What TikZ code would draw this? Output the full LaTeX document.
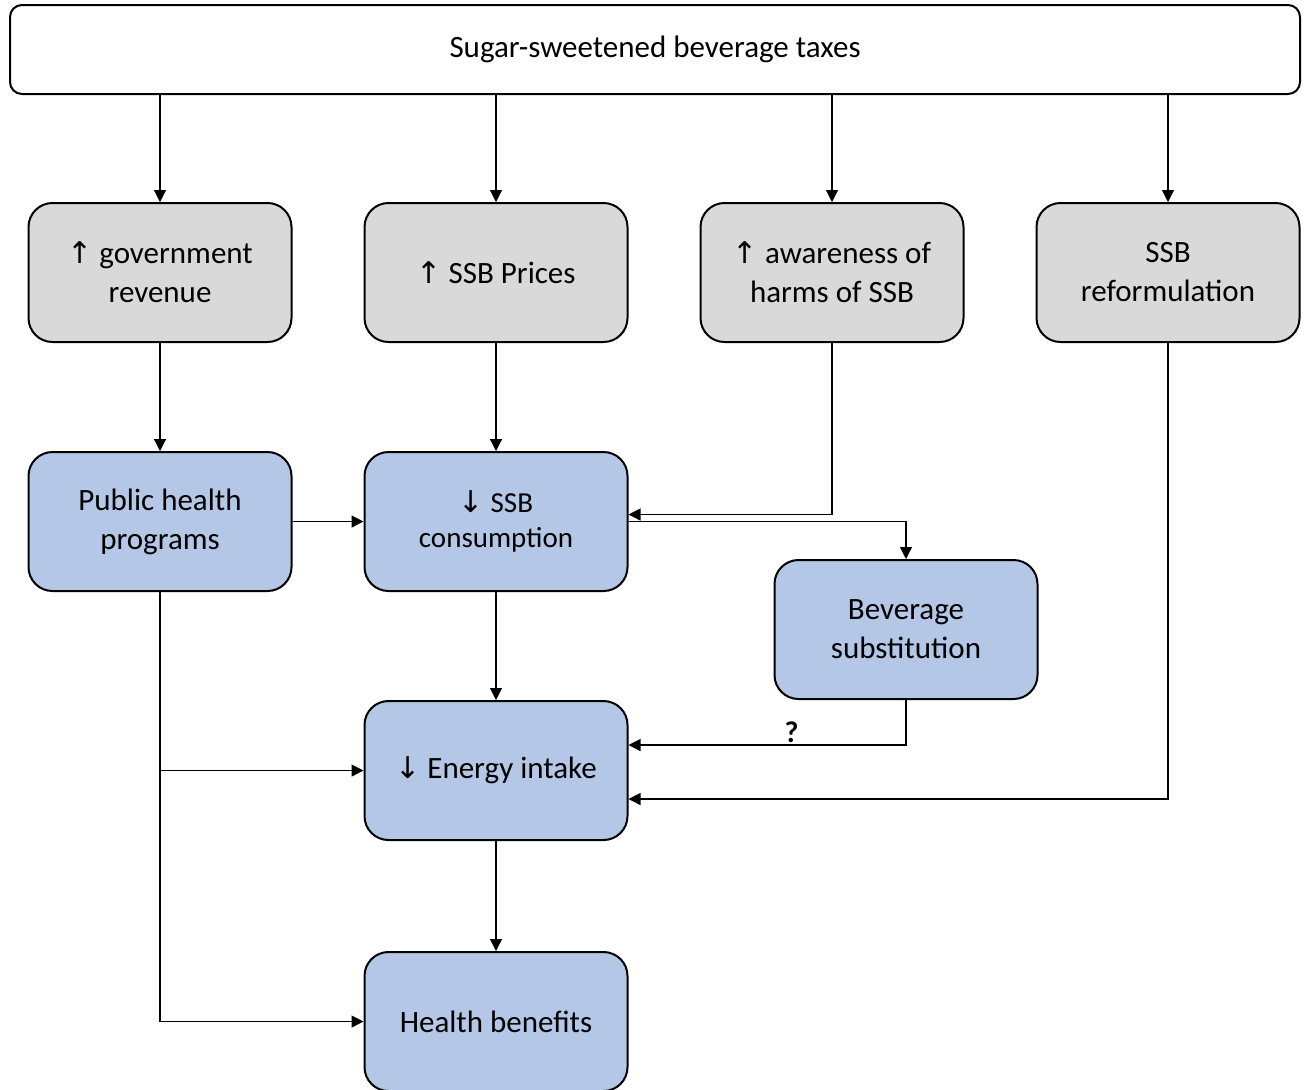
\documentclass[tikz,border=0pt]{standalone}
\usepackage{fontspec}
\setmainfont{Carlito}
\newfontfamily\arrowfont{DejaVu Sans}
\usepackage{tikz}
\usetikzlibrary{positioning,arrows.meta}
\definecolor{myblue}{RGB}{180,199,231}
\definecolor{mygray}{RGB}{217,217,217}
\newcommand{\uparr}{{\arrowfont\fontsize{15pt}{15pt}\selectfont ↑}}
\newcommand{\downarr}{{\arrowfont\fontsize{15pt}{15pt}\selectfont ↓}}

\tikzset{
  box/.style={draw, line width=1pt, rounded corners=12pt, align=center,
    minimum width=131.5pt, minimum height=69.5pt,
    font=\fontsize{15.5pt}{19.5pt}\selectfont},
  graybox/.style={box, fill=mygray},
  bluebox/.style={box, fill=myblue},
  arr/.style={line width=0.6pt, -{Triangle[length=6pt,width=6pt]}}
}

\begin{document}
\begin{tikzpicture}[x=0.5pt,y=-0.5pt]
  \useasboundingbox (0,0) rectangle (1304,1089);

  % tax
  \node[box, minimum width=645pt, minimum height=44.5pt, rounded corners=6pt] (tax) at (655,49.5) {Sugar-sweetened beverage taxes};

  % first row
  \node[graybox] (rev) at (160,272.5) {\uparr\ government\\revenue};
  \node[graybox] (price) at (496,272.5) {\uparr\ SSB Prices};
  \node[graybox] (aware) at (832,272.5) {\uparr\ awareness of\\harms of SSB};
  \node[graybox] (reform) at (1168,272.5) {SSB\\reformulation};

  % outcomes
  \node[bluebox] (pub) at (160,521.5) {Public health\\programs};
  \node[bluebox, font=\fontsize{14.5pt}{17.5pt}\selectfont] (cons) at (496,521.5) {\downarr\ SSB\\consumption};
  \node[bluebox] (subst) at (906,629.5) {Beverage\\substitution};
  \node[bluebox] (energy) at (496,770.5) {\downarr\ Energy intake};
  \node[bluebox] (health) at (496,1021.5) {Health benefits};

  % arrows
  \draw[arr] (tax.south -| rev) -- (rev);
  \draw[arr] (tax.south -| price) -- (price);
  \draw[arr] (tax.south -| aware) -- (aware);
  \draw[arr] (tax.south -| reform) -- (reform);
  \draw[arr] (rev) -- (pub);
  \draw[arr] (price) -- (cons);
  \draw[arr] (aware.south) |- ([yshift=3.5pt]cons.east);
  \draw[arr] (pub) -- (cons);
  \draw[arr] (cons.east) -| (subst.north);
  \draw[arr] (cons) -- (energy);
  \draw[arr] (subst.south) |- node[pos=0.706, above=-2.5pt, font=\fontsize{15pt}{15pt}\selectfont\bfseries] (q) {?} ([yshift=12.75pt]energy.east);
  \draw[arr] (reform.south) |- ([yshift=-14.25pt]energy.east);
  \draw[arr] (pub.south) |- (energy.west);
  \draw[arr] (pub.south) |- (health.west);
  \draw[arr] (energy) -- (health);
\end{tikzpicture}
\end{document}
